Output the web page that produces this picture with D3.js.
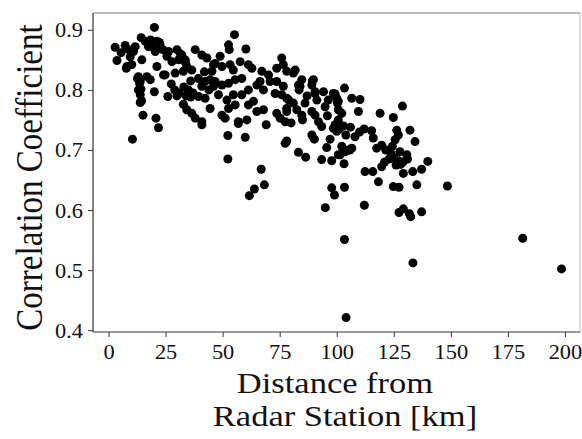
<!DOCTYPE html>
<html><head><meta charset="utf-8">
<script src="https://cdn.jsdelivr.net/npm/d3@7"></script>
<style>body{margin:0;background:#fff}svg{display:block}</style>
</head><body>
<script>
const distance = [
2.9,3.7,7.3,8.8,10.9,11.7,8.1,10.2,7.8,10.5,12.7,13.6,14.2,14.5,15.1,14.3,16.1,18.4,21.2,22.6,19.0,14.6,21.2,20.1,17.5,20.5,23.8,22.3,13.1,13.9,16.8,18.3,13.1,13.9,20.1,13.9,20.8,21.9,24.1,5.5,9.5,
24.8,29.2,32.8,34.3,36.5,26.0,25.6,27.8,26.3,30.0,32.1,33.6,30.7,31.5,33.7,29,31,33,35,37,30,34,36,32.8,34.3,36.5,38.0,40.9,39.4,42.3,44.5,38.0,40.9,43.1,46.0,45.3,39.4,42.3,44.5,46.0,40.9,40.9,49.7,51.1,48.9,46.7,49.7,46.7,49.7,48.2,27.5,36,42,44,
55.2,52.6,52.9,60.2,53.3,54.7,57.7,61.3,62.8,52.6,55.5,58.4,51.9,54.7,58.4,61.3,65.0,66.4,67.9,67.2,70.1,70.8,73.7,75.9,76.6,78.1,81.0,81.8,73.7,76.6,73.0,75.9,78.1,56.9,60.6,65.0,67.9,69.1,73.7,75.2,77.4,78.1,61.3,63.5,52.6,55.5,52.3,59.9,52.3,66.9,68.3,63.9,61.7,56.9,77.4,78.1,
84.7,83.9,89.3,90.5,94.2,91.3,99.3,103.4,106.6,110.2,109.5,100.3,100.7,102.2,83.2,83.5,89.8,89.1,90.5,81.0,78.1,82.5,86.1,84.7,89.1,90.5,92.0,93.4,95.9,99.3,100.0,94.9,96.3,98.5,100.0,83.2,86.4,89.1,90.2,98.5,97.1,95.6,93.4,97.8,100.7,97.8,99.0,95.0,103.4,103.4,104.1,112.1,101.5,103.6,105.8,103.2,102.2,105.1,106.6,100.7,100.7,101,104,106,108,110,112,103,87,80,85,79,
115.3,119.0,124.8,128.8,126.3,127.0,125.6,124.4,132.1,134.3,117.5,119.7,112.4,115.8,118.3,119.7,121,123,125,127,129,131,126,128,123.8,127.7,130.7,129.2,133.3,137.2,139.9,124.8,127.3,135.1,148.5,127.3,129.2,131.8,132.4,137.2,133.4,181.5,198.5,121.5,116
];
const correlation = [
0.871,0.849,0.874,0.867,0.864,0.872,0.839,0.842,0.836,0.718,0.819,0.811,0.801,0.782,0.758,0.887,0.881,0.883,0.881,0.875,0.872,0.85,0.839,0.904,0.872,0.864,0.867,0.879,0.822,0.814,0.822,0.817,0.80,0.792,0.797,0.779,0.753,0.737,0.825,0.862,0.855,
0.825,0.828,0.831,0.839,0.833,0.789,0.856,0.847,0.864,0.867,0.858,0.85,0.85,0.86,0.846,0.80,0.795,0.805,0.80,0.795,0.79,0.79,0.788,0.776,0.767,0.761,0.753,0.747,0.789,0.786,0.769,0.867,0.858,0.853,0.842,0.831,0.819,0.814,0.817,0.806,0.806,0.742,0.758,0.753,0.856,0.844,0.839,0.814,0.808,0.792,0.81,0.815,0.83,0.80,
0.892,0.875,0.867,0.868,0.842,0.833,0.847,0.842,0.836,0.811,0.817,0.819,0.783,0.792,0.792,0.80,0.808,0.814,0.80,0.831,0.825,0.814,0.836,0.853,0.842,0.831,0.828,0.833,0.814,0.806,0.794,0.792,0.786,0.747,0.75,0.764,0.767,0.742,0.761,0.753,0.747,0.764,0.775,0.781,0.769,0.775,0.724,0.721,0.685,0.668,0.642,0.635,0.624,0.744,0.711,0.715,
0.817,0.806,0.815,0.797,0.797,0.783,0.793,0.803,0.786,0.784,0.764,0.778,0.767,0.761,0.808,0.80,0.817,0.808,0.794,0.778,0.769,0.767,0.778,0.758,0.764,0.758,0.747,0.739,0.757,0.742,0.731,0.772,0.783,0.794,0.786,0.696,0.688,0.725,0.718,0.736,0.718,0.704,0.684,0.682,0.692,0.637,0.625,0.604,0.638,0.551,0.421,0.608,0.692,0.697,0.70,0.677,0.706,0.70,0.703,0.781,0.75,0.735,0.725,0.738,0.722,0.73,0.735,0.74,0.79,0.745,0.75,0.783,
0.732,0.761,0.754,0.773,0.733,0.725,0.717,0.706,0.733,0.714,0.703,0.708,0.664,0.664,0.647,0.672,0.68,0.685,0.687,0.682,0.68,0.685,0.675,0.676,0.694,0.697,0.692,0.661,0.664,0.668,0.681,0.639,0.638,0.642,0.640,0.596,0.602,0.594,0.589,0.597,0.512,0.553,0.502,0.70,0.72
];
const xTicks = [0,25,50,75,100,125,150,175,200];
const yTicks = [0.4,0.5,0.6,0.7,0.8,0.9];
const xTitleLines = ["Distance from","Radar Station [km]"];
const yTitle = "Correlation Coefficient";

const W = 582, H = 439;
const m = {left:93, right:580, top:13, bottom:332};
const svg = d3.select("body").append("svg").attr("width",W).attr("height",H);
const x = d3.scaleLinear().domain([-6.8,206.6]).range([m.left,m.right]);
const y = d3.scaleLinear().domain([0.397,0.928]).range([m.bottom,m.top]);
const font = "'Liberation Serif','Times New Roman',serif";

const pts = distance.map((d,i)=>({d, c: correlation[i]}));
svg.append("g").selectAll("circle").data(pts).join("circle")
  .attr("cx",p=>x(p.d)).attr("cy",p=>y(p.c)).attr("r",4.5).attr("fill","#000");

// spines
svg.append("line").attr("x1",m.left).attr("x2",m.right).attr("y1",m.top).attr("y2",m.top).attr("stroke","#777").attr("stroke-width",1);
svg.append("line").attr("x1",m.right).attr("x2",m.right).attr("y1",m.top).attr("y2",m.bottom).attr("stroke","#bbb").attr("stroke-width",1);

const xa = svg.append("g").attr("transform",`translate(0,${m.bottom})`)
  .call(d3.axisBottom(x).tickValues(xTicks).tickSize(5).tickPadding(4).tickFormat(d3.format("d")));
const ya = svg.append("g").attr("transform",`translate(${m.left},0)`)
  .call(d3.axisLeft(y).tickValues(yTicks).tickSize(5).tickPadding(4).tickFormat(d3.format(".1f")));
[xa,ya].forEach(a=>{
  a.select(".domain").attr("stroke","#333").attr("stroke-width",1.2);
  a.selectAll(".tick line").attr("stroke","#333");
  a.selectAll("text").attr("font-family",font).attr("font-size",20).attr("fill","#111");
});
xa.select(".domain").attr("d",`M${m.left},0H${m.right}`);
ya.select(".domain").attr("d",`M0,${m.top}V${m.bottom}`);
// horizontally widened tick labels (reference glyphs are wider than tall)
xa.selectAll(".tick text").attr("y",null).attr("dy",null)
  .attr("transform","translate(0,27) scale(1.12,1)");
ya.selectAll(".tick text").attr("x",null).attr("dy",null)
  .attr("transform","translate(-10,7) scale(1.12,1)");

const xCenters = [335, 345];
svg.selectAll(".xtitle").data(xTitleLines).join("text")
  .attr("transform",(t,i)=>`translate(${xCenters[i]},${393+i*33}) scale(1.15,1)`)
  .attr("text-anchor","middle").attr("font-family",font).attr("font-size",30).attr("fill","#111")
  .text(t=>t);

svg.append("text")
  .attr("transform",`translate(42,${(m.top+m.bottom)/2+5}) scale(1.18,1) rotate(-90)`)
  .attr("text-anchor","middle").attr("font-family",font).attr("font-size",33).attr("fill","#111")
  .text(yTitle);
</script>
</body></html>
